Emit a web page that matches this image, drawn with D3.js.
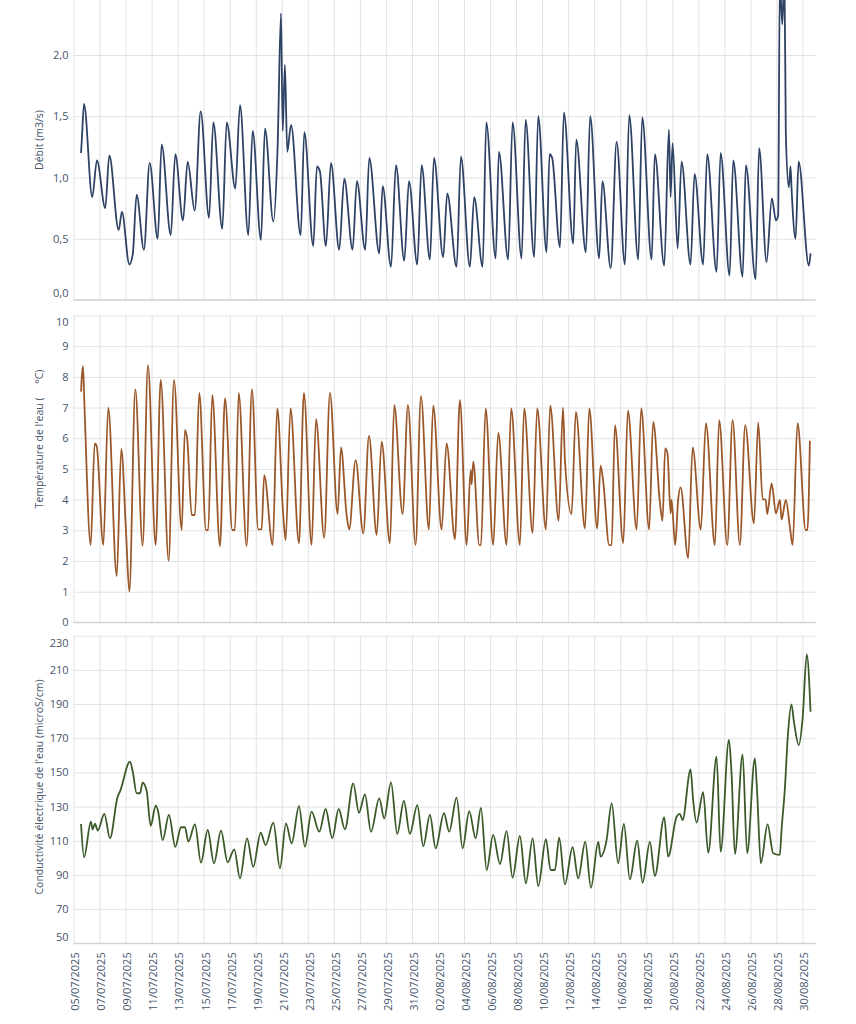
<!DOCTYPE html>
<html>
<head>
<meta charset="utf-8">
<script src="https://cdn.jsdelivr.net/npm/d3@7"></script>
<style>
    body { margin: 0; background: #fff; }
    text { font-family: "Open Sans", sans-serif; fill: #44546A; }
</style>
</head>
<body>
<div id="chart"></div>
<script>
// Values: [days since 05/07/2025 00:00, value]
const debit = [
    [0.58,1.20],[0.65,1.33],[0.81,1.60],[1.44,0.84],[1.80,1.14],[2.44,0.75],[2.75,1.18],[3.47,0.57],[3.72,0.72],[4.29,0.29],
    [4.55,0.37],[4.85,0.86],[5.41,0.41],[5.85,1.12],[6.47,0.50],[6.77,1.27],[7.47,0.53],[7.82,1.19],[8.41,0.65],[8.77,1.13],
    [9.31,0.73],[9.77,1.54],[10.41,0.67],[10.74,1.45],[11.43,0.58],[11.77,1.45],[12.43,0.91],[12.79,1.59],[13.43,0.53],[13.76,1.38],
    [14.40,0.49],[14.71,1.40],[15.35,0.64],[15.68,1.25],[15.94,2.34],[16.07,1.38],[16.24,1.92],[16.42,1.21],[16.71,1.43],[17.45,0.53],
    [17.73,1.37],[18.42,0.44],[18.70,1.09],[18.93,1.05],[19.39,0.44],[19.78,1.12],[20.41,0.41],[20.80,0.99],[21.44,0.41],[21.77,0.97],
    [22.41,0.41],[22.72,1.16],[23.49,0.38],[23.75,0.93],[24.39,0.27],[24.77,1.10],[25.41,0.32],[25.77,0.97],[26.41,0.29],[26.74,1.10],
    [27.38,0.33],[27.69,1.16],[28.40,0.35],[28.71,0.87],[29.43,0.27],[29.76,1.17],[30.45,0.27],[30.78,0.84],[31.43,0.27],[31.71,1.45],
    [32.43,0.34],[32.68,1.21],[33.39,0.33],[33.73,1.45],[34.42,0.34],[34.73,1.47],[35.39,0.35],[35.70,1.50],[36.34,0.39],[36.57,1.19],
    [36.77,1.16],[37.37,0.43],[37.67,1.53],[38.39,0.46],[38.62,1.31],[39.36,0.39],[39.69,1.50],[40.38,0.34],[40.63,0.97],[41.27,0.26],
    [41.72,1.29],[42.36,0.29],[42.69,1.51],[43.38,0.33],[43.69,1.49],[44.41,0.33],[44.66,1.19],[45.38,0.28],[45.74,1.39],[45.87,0.84],
    [46.02,1.28],[46.41,0.42],[46.71,1.13],[47.40,0.29],[47.71,1.03],[48.37,0.29],[48.68,1.19],[49.40,0.23],[49.71,1.20],[50.40,0.20],
    [50.68,1.14],[51.40,0.19],[51.65,1.10],[52.40,0.17],[52.67,1.24],[53.24,0.31],[53.65,0.83],[53.96,0.65],[54.13,0.69],[54.26,2.60],
    [54.45,2.25],[54.61,2.70],[54.72,1.36],[54.95,0.92],[55.08,1.09],[55.16,0.91],[55.47,0.50],[55.70,1.13],[56.49,0.28],[56.62,0.38]
];

const temperature = [
    [0.58,7.52],[0.63,7.95],[0.73,8.35],[0.83,7.20],[1.32,2.52],[1.63,5.83],[1.78,5.75],[2.29,2.52],[2.67,7.00],[3.32,1.51],
    [3.67,5.65],[4.03,3.00],[4.29,1.00],[4.75,7.59],[5.31,2.50],[5.72,8.38],[6.31,2.52],[6.70,7.90],[7.31,2.01],[7.72,7.90],
    [8.31,3.01],[8.56,6.27],[8.74,5.95],[9.08,3.50],[9.33,3.50],[9.66,7.48],[10.18,3.01],[10.35,3.01],[10.66,7.41],[11.25,2.49],
    [11.64,7.30],[12.20,3.01],[12.40,3.01],[12.69,7.48],[13.30,2.49],[13.71,7.59],[14.19,3.03],[14.45,3.03],[14.65,4.80],[15.30,2.52],
    [15.65,6.97],[16.11,3.50],[16.30,2.68],[16.67,6.97],[17.32,2.58],[17.70,7.48],[18.29,2.52],[18.63,6.62],[19.26,2.76],[19.70,7.48],
    [20.29,3.53],[20.55,5.70],[20.98,3.50],[21.18,3.03],[21.67,5.29],[22.26,2.90],[22.70,6.08],[23.29,2.85],[23.67,5.89],[24.31,2.58],
    [24.64,7.08],[25.28,3.53],[25.69,7.08],[26.28,2.52],[26.69,7.37],[27.30,3.03],[27.63,7.06],[28.28,3.03],[28.66,5.83],[29.30,2.71],
    [29.68,7.24],[30.20,2.52],[30.51,4.96],[30.58,4.50],[30.71,5.24],[31.17,2.52],[31.30,2.52],[31.66,6.97],[32.24,2.52],[32.63,6.18],
    [33.27,2.52],[33.62,6.97],[34.29,2.52],[34.62,6.97],[35.27,2.92],[35.62,6.97],[36.29,3.03],[36.62,7.06],[37.27,3.31],[37.60,7.00],
    [37.75,5.30],[38.26,3.53],[38.59,6.86],[39.29,3.06],[39.62,6.97],[40.23,3.06],[40.49,5.11],[40.69,4.60],[41.15,2.52],[41.34,2.52],
    [41.59,6.43],[42.23,2.58],[42.59,6.90],[43.26,3.03],[43.61,6.97],[44.22,3.03],[44.53,6.54],[45.05,3.90],[45.25,3.31],[45.45,5.67],
    [45.63,5.50],[45.87,3.55],[45.94,4.00],[46.22,2.52],[46.45,4.00],[46.64,4.40],[47.22,2.09],[47.56,5.70],[48.19,3.03],[48.58,6.49],
    [49.27,2.52],[49.60,6.59],[50.22,2.52],[50.63,6.59],[51.19,2.52],[51.60,6.43],[52.27,3.23],[52.60,6.51],[52.94,4.01],[53.17,4.01],
    [53.29,3.53],[53.63,4.53],[53.96,3.55],[54.27,3.99],[54.39,3.35],[54.72,3.99],[55.03,3.12],[55.24,2.52],[55.62,6.49],[56.25,3.01],
    [56.38,3.01],[56.57,5.92]
];

const conductivity = [
    [0.58,119.8],[0.81,100.3],[1.34,121.2],[1.47,116.6],[1.65,120.0],[1.86,116.0],[2.37,125.7],[2.80,111.4],[3.39,135.8],[3.57,138.8],
    [4.34,156.3],[4.55,150.5],[4.85,137.8],[5.11,137.8],[5.31,144.0],[5.62,139.1],[5.93,118.8],[6.31,130.5],[6.49,127.6],[6.85,110.4],
    [7.33,125.1],[7.82,106.5],[8.26,117.9],[8.56,117.9],[8.82,109.5],[9.33,119.6],[9.79,97.2],[10.31,116.3],[10.79,96.8],[11.33,115.9],
    [11.84,97.4],[12.35,105.0],[12.79,88.0],[13.33,111.4],[13.81,94.8],[14.38,114.7],[14.76,107.5],[15.35,120.6],[15.86,93.9],[16.32,120.2],
    [16.76,108.5],[17.32,130.3],[17.78,106.5],[18.29,127.0],[18.88,115.3],[19.37,128.6],[19.88,111.4],[20.37,128.6],[20.85,116.7],[21.49,143.6],
    [21.93,126.4],[22.39,137.2],[22.85,115.3],[23.49,134.8],[23.87,123.1],[24.39,144.2],[24.87,114.0],[25.38,133.4],[25.84,114.0],[26.41,130.9],
    [26.87,106.9],[27.38,125.1],[27.82,105.6],[28.46,126.1],[28.86,115.3],[29.43,135.2],[29.89,105.6],[30.40,127.4],[30.89,111.4],[31.30,129.3],
    [31.74,92.9],[32.24,113.4],[32.76,96.4],[33.27,115.7],[33.73,88.4],[34.29,112.8],[34.75,85.1],[35.27,111.4],[35.70,83.5],[36.29,111.0],
    [36.65,92.9],[36.98,92.9],[37.31,111.8],[37.75,84.5],[38.34,106.2],[38.77,88.0],[39.31,109.4],[39.75,82.5],[40.31,109.4],[40.49,100.7],
    [40.95,110.4],[41.34,131.9],[41.84,96.8],[42.28,119.8],[42.74,87.4],[43.30,110.0],[43.72,85.5],[44.28,109.4],[44.66,89.4],[45.38,123.7],
    [45.68,100.7],[46.33,124.1],[46.58,125.7],[46.79,122.1],[47.40,151.8],[47.60,133.8],[47.86,120.6],[48.37,138.4],[48.76,103.0],[49.40,159.2],
    [49.71,103.6],[50.35,169.0],[50.55,149.5],[50.81,102.3],[51.40,160.6],[51.75,102.7],[52.34,158.2],[52.52,137.8],[52.80,96.8],[53.32,119.6],
    [53.75,102.7],[54.26,101.7],[54.39,116.3],[54.64,139.7],[54.89,172.9],[55.15,189.8],[55.36,178.7],[55.72,166.0],[56.01,181.7],[56.33,219.1],
    [56.62,185.5]
];

const debitTicks = [0, 0.5, 1, 1.5, 2];
const tempTicks = [0, 1, 2, 3, 4, 5, 6, 7, 8, 9, 10];
const condTicks = [50, 70, 90, 110, 130, 150, 170, 190, 210, 230];

const startDate = new Date(2025, 6, 5);
const endDate = new Date(2025, 7, 31);
const toDate = d => new Date(startDate.getTime() + d * 864e5);

const width = 856, height = 1024;
const plotLeft = 73.5, plotRight = 815.5;

const frFormat = d3.formatLocale({ decimal: ",", thousands: " ", grouping: [3], currency: ["", " €"] });

const svg = d3.select("#chart").append("svg")
    .attr("width", width)
    .attr("height", height);

// Shared time scale
const x = d3.scaleTime()
    .domain([startDate, endDate])
    .range([plotLeft, plotRight]);

const xTicks = d3.range(0, 57, 2).map(k => d3.timeDay.offset(startDate, k));

const panels = [
    { data: debit, ticks: debitTicks, domain: [0, 2.5], top: -6.25, bottom: 300, color: "#2D4264",
      fmt: frFormat.format(".1f"), title: "Débit (m3/s)", titleY: 140, shift: { 0: -7 } },
    { data: temperature, ticks: tempTicks, domain: [0, 10], top: 315.5, bottom: 622.4, color: "#9A582A",
      fmt: d3.format("d"), title: "Température de l'eau (\u00a0\u00a0\u00a0\u00a0\u00a0°C)", titleY: 439, shift: { 10: 6 } },
    { data: conductivity, ticks: condTicks, domain: [50, 230], top: 635.7, bottom: 943.3, color: "#3B5A2A",
      fmt: d3.format("d"), title: "Conductivité électrique de l'eau (microS/cm)", titleY: 787, shift: { 50: -6.5, 230: 7 } }
];

panels.forEach((p, i) => {
    let y = d3.scaleLinear().domain(p.domain).range([p.bottom, p.top]);
    let g = svg.append("g");

    // vertical gridlines every 2 days
    let vGrid = g.append("g")
        .attr("transform", "translate(0," + p.bottom + ")")
        .call(d3.axisBottom(x).tickValues(xTicks).tickSize(-(p.bottom - p.top)).tickFormat(""));
    vGrid.select(".domain").remove();
    vGrid.selectAll("line").style("stroke", "#E2E2E2");

    // horizontal gridlines + labels
    let yAxis = g.append("g")
        .attr("transform", "translate(" + plotLeft + ",0)")
        .call(d3.axisLeft(y).tickValues(p.ticks).tickSize(-(plotRight - plotLeft)).tickPadding(5).tickFormat(p.fmt));
    yAxis.select(".domain").remove();
    yAxis.selectAll("line").style("stroke", "#E2E2E2");
    yAxis.selectAll("text")
        .style("font-size", "11px")
        .style("fill", "#44546A")
        .attr("y", d => p.shift[d] || 0);

    // bottom axis line
    g.append("line")
        .attr("x1", plotLeft).attr("x2", plotRight)
        .attr("y1", p.bottom).attr("y2", p.bottom)
        .style("stroke", "#D4D4D4")
        .style("stroke-width", 1.3);

    // clip + series line
    svg.append("clipPath").attr("id", "clip" + i)
        .append("rect")
        .attr("x", plotLeft).attr("y", p.top)
        .attr("width", plotRight - plotLeft).attr("height", p.bottom - p.top);

    let line = d3.line()
        .x(d => x(toDate(d[0])))
        .y(d => y(d[1]))
        .curve(d3.curveMonotoneX);

    g.append("path")
        .datum(p.data)
        .attr("clip-path", "url(#clip" + i + ")")
        .attr("d", line)
        .style("fill", "none")
        .style("stroke", p.color)
        .style("stroke-width", 1.8)
        .style("stroke-linejoin", "round");

    // y-axis title
    g.append("text")
        .attr("transform", "translate(39," + p.titleY + ") rotate(-90)")
        .attr("dy", "0.35em")
        .style("text-anchor", "middle")
        .style("font-size", "10.5px")
        .text(p.title);

    // date labels under the last panel
    if (i === panels.length - 1) {
        let xAxis = g.append("g")
            .attr("transform", "translate(0," + p.bottom + ")")
            .call(d3.axisBottom(x).tickValues(xTicks).tickSize(0).tickFormat(d3.timeFormat("%d/%m/%Y")));
        xAxis.select(".domain").remove();
        xAxis.selectAll("text")
            .attr("transform", "rotate(-90)")
            .attr("x", -9)
            .attr("y", 1.5)
            .attr("dy", "0.35em")
            .style("text-anchor", "end")
            .style("font-size", "11px")
            .style("fill", "#44546A");
    }
});
</script>
</body>
</html>
